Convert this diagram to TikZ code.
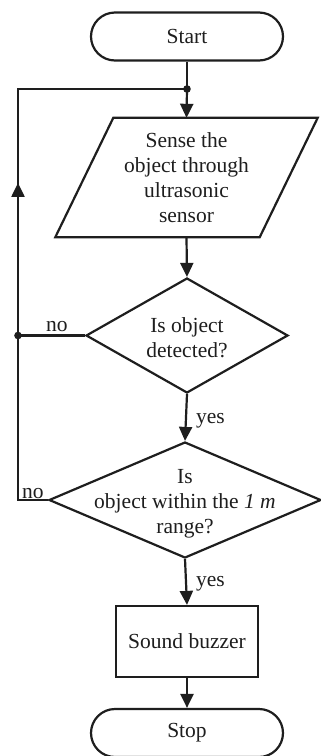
\documentclass[tikz,border=0pt]{standalone}
\usepackage{fontspec}
\setmainfont{Liberation Serif}
\usetikzlibrary{shapes.geometric,arrows.meta,decorations.markings,calc}
\definecolor{ink}{RGB}{30,30,30}
\tikzset{
  ln/.style={draw=ink, line width=2.2pt, line join=miter},
  arr/.style={ln, -{Triangle[length=14pt,width=13pt]}},
  term/.style={ln, rectangle, rounded corners=24pt, minimum width=192pt, minimum height=48pt, inner sep=0pt, text=ink},
  boxnode/.style={ln, rectangle, minimum width=142pt, minimum height=71pt, inner sep=0pt, text=ink},
  dec/.style={ln, diamond, inner sep=0pt},
  lbl/.style={text=ink, inner sep=1pt},
}
\begin{document}
\begin{tikzpicture}[x=1pt,y=-1pt, font=\fontsize{21.5}{25}\selectfont]
\useasboundingbox (0,0) rectangle (321,756);
\fill[white] (0,0) rectangle (321,756);

\node[term] (start) at (187,36.5) {Start};
\node[minimum width=204pt, minimum height=119pt, inner sep=0pt, align=center, text=ink] (sense) at (186.5,177.5)
  {Sense the\\object through\\ultrasonic\\sensor};
\draw[ln] ([xshift=29pt]sense.north west) -- ([xshift=29pt]sense.north east)
  -- ([xshift=-29pt]sense.south east) -- ([xshift=-29pt]sense.south west) -- cycle;
\node[dec, minimum width=202pt, minimum height=115pt,
  label={[align=center, text=ink, yshift=-2pt]center:Is object\\detected?}] (d1) at (187,335.5) {};
\node[dec, minimum width=272pt, minimum height=116pt,
  label={[align=center, text=ink, yshift=-4pt]center:Is\\object within the \textit{1 m}\\range?}] (d2) at (185,500) {};
\node[boxnode] (buzz) at (187,641.5) {Sound buzzer};
\node[term] (stop) at (187,733) {Stop};

\coordinate (j1) at (187,89);
\coordinate (tl) at (18,89);
\coordinate (j2) at (tl |- d1.west);
\coordinate (j3) at (tl |- d2.west);

\draw[ln] (start.south) -- (j1);
\draw[arr] (j1) -- (sense.north);
\draw[arr] (sense.south) -- (d1.north);
\draw[arr] (d1.south) -- node[lbl, anchor=west, xshift=8pt, yshift=-3pt] {yes} (d2.north);
\draw[arr] (d2.south) -- node[lbl, anchor=west, xshift=8pt, yshift=-2pt] {yes} (buzz.north);
\draw[arr] (buzz.south) -- (stop.north);
\draw[ln] (d1.west) -- node[lbl, pos=0.42, anchor=south, yshift=2pt] {no} (j2);
\draw[ln, postaction={decorate}, decoration={markings,
    mark=at position 347pt with {\arrow{Triangle[length=14pt,width=13pt]}}}]
  (d2.west) -- node[lbl, anchor=south, inner sep=0pt] {no} (j3) -- (tl) -- (j1);
\fill[ink] (j1) circle (3.8pt);
\fill[ink] (j2) circle (3.8pt);
\end{tikzpicture}
\end{document}
